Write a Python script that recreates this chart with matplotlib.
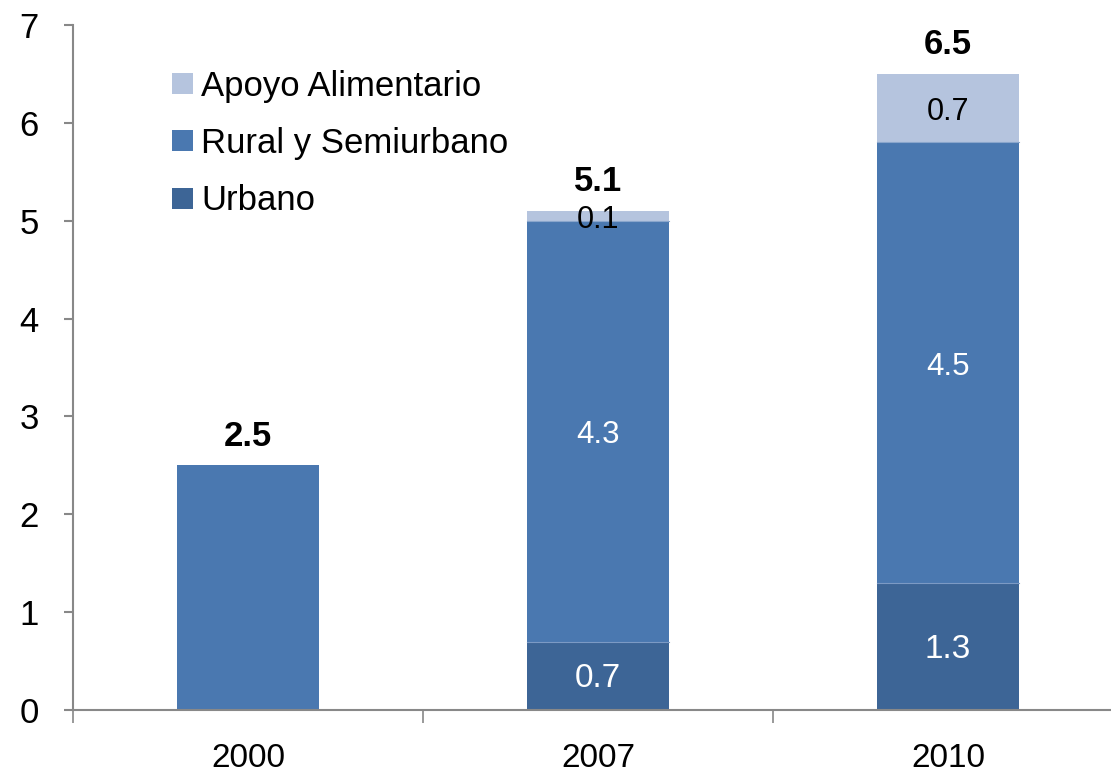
import numpy as np
import matplotlib
matplotlib.use("Agg")
import matplotlib.pyplot as plt
from matplotlib.patches import Patch

plt.rcParams["font.family"] = ["Liberation Sans", "DejaVu Sans"]

years = ["2000", "2007", "2010"]
urbano = [0.0, 0.7, 1.3]
rural = [2.5, 4.3, 4.5]
apoyo = [0.0, 0.1, 0.7]
totals = [2.5, 5.1, 6.5]

urbano_labels = ["", "0.7", "1.3"]
rural_labels = ["", "4.3", "4.5"]
apoyo_labels = ["", "0.1", "0.7"]

c_urbano = "#3D6596"
c_rural = "#4A78B0"
c_apoyo = "#B5C4DE"
axis_gray = "#888888"

fig = plt.figure(figsize=(11.11, 7.77), dpi=100)
ax = fig.add_axes([73 / 1111, 67 / 777, 1050 / 1111, 685 / 777])

x = np.arange(len(years))
width = 0.405

u = np.array(urbano)
r = np.array(rural)
a = np.array(apoyo)

ax.bar(x, u, width, color=c_urbano, edgecolor="none")
ax.bar(x, r, width, bottom=u, color=c_rural, edgecolor="none")
ax.bar(x, a, width, bottom=u + r, color=c_apoyo, edgecolor="none")

# thin light separators between stacked segments
for i in range(len(years)):
    if u[i] > 0:
        ax.plot([x[i] - width / 2, x[i] + width / 2], [u[i], u[i]],
                color="#7C9AC4", lw=0.8)
    if a[i] > 0:
        ax.plot([x[i] - width / 2, x[i] + width / 2], [u[i] + r[i]] * 2,
                color="#8AA6CC", lw=0.8)

for i in range(len(years)):
    if urbano_labels[i]:
        ax.text(x[i], u[i] / 2 - 0.03, urbano_labels[i], ha="center", va="center",
                color="white", fontsize=24)
    if rural_labels[i]:
        ax.text(x[i], u[i] + r[i] / 2 - 0.04, rural_labels[i], ha="center",
                va="center", color="white", fontsize=22.5)
    if apoyo_labels[i]:
        ax.text(x[i], u[i] + r[i] + a[i] / 2 - 0.04, apoyo_labels[i], ha="center",
                va="center", color="black", fontsize=22)
    ax.text(x[i], totals[i] + 0.30, f"{totals[i]:.1f}", ha="center", va="center",
            color="black", fontsize=25, fontweight="bold")

ax.set_xlim(-0.5, 2.5)
ax.set_ylim(0, 7)
ax.set_yticks(range(0, 8))
ax.set_xticks(x)
ax.set_xticklabels(years)
ax.set_xticks([-0.5, 0.5, 1.5, 2.5], minor=True)

ax.tick_params(axis="x", which="major", length=0, pad=24, labelsize=24)
ax.tick_params(axis="x", which="minor", length=9, width=1.2, color=axis_gray,
               direction="out")
ax.tick_params(axis="y", length=6.5, width=1.5, color=axis_gray, pad=18,
               labelsize=25, direction="out")

for side in ["top", "right"]:
    ax.spines[side].set_visible(False)
for side in ["left", "bottom"]:
    ax.spines[side].set_color(axis_gray)
    ax.spines[side].set_linewidth(1.5)

handles = [
    Patch(facecolor=c_apoyo, label="Apoyo Alimentario"),
    Patch(facecolor=c_rural, label="Rural y Semiurbano"),
    Patch(facecolor=c_urbano, label="Urbano"),
]
ax.legend(handles=handles, loc="upper left", bbox_to_anchor=(0.081, 0.955),
          frameon=False, fontsize=25, handlelength=0.6, handleheight=0.55,
          handletextpad=0.25, labelspacing=0.7, borderaxespad=0)

fig.savefig("out.png", dpi=100)
